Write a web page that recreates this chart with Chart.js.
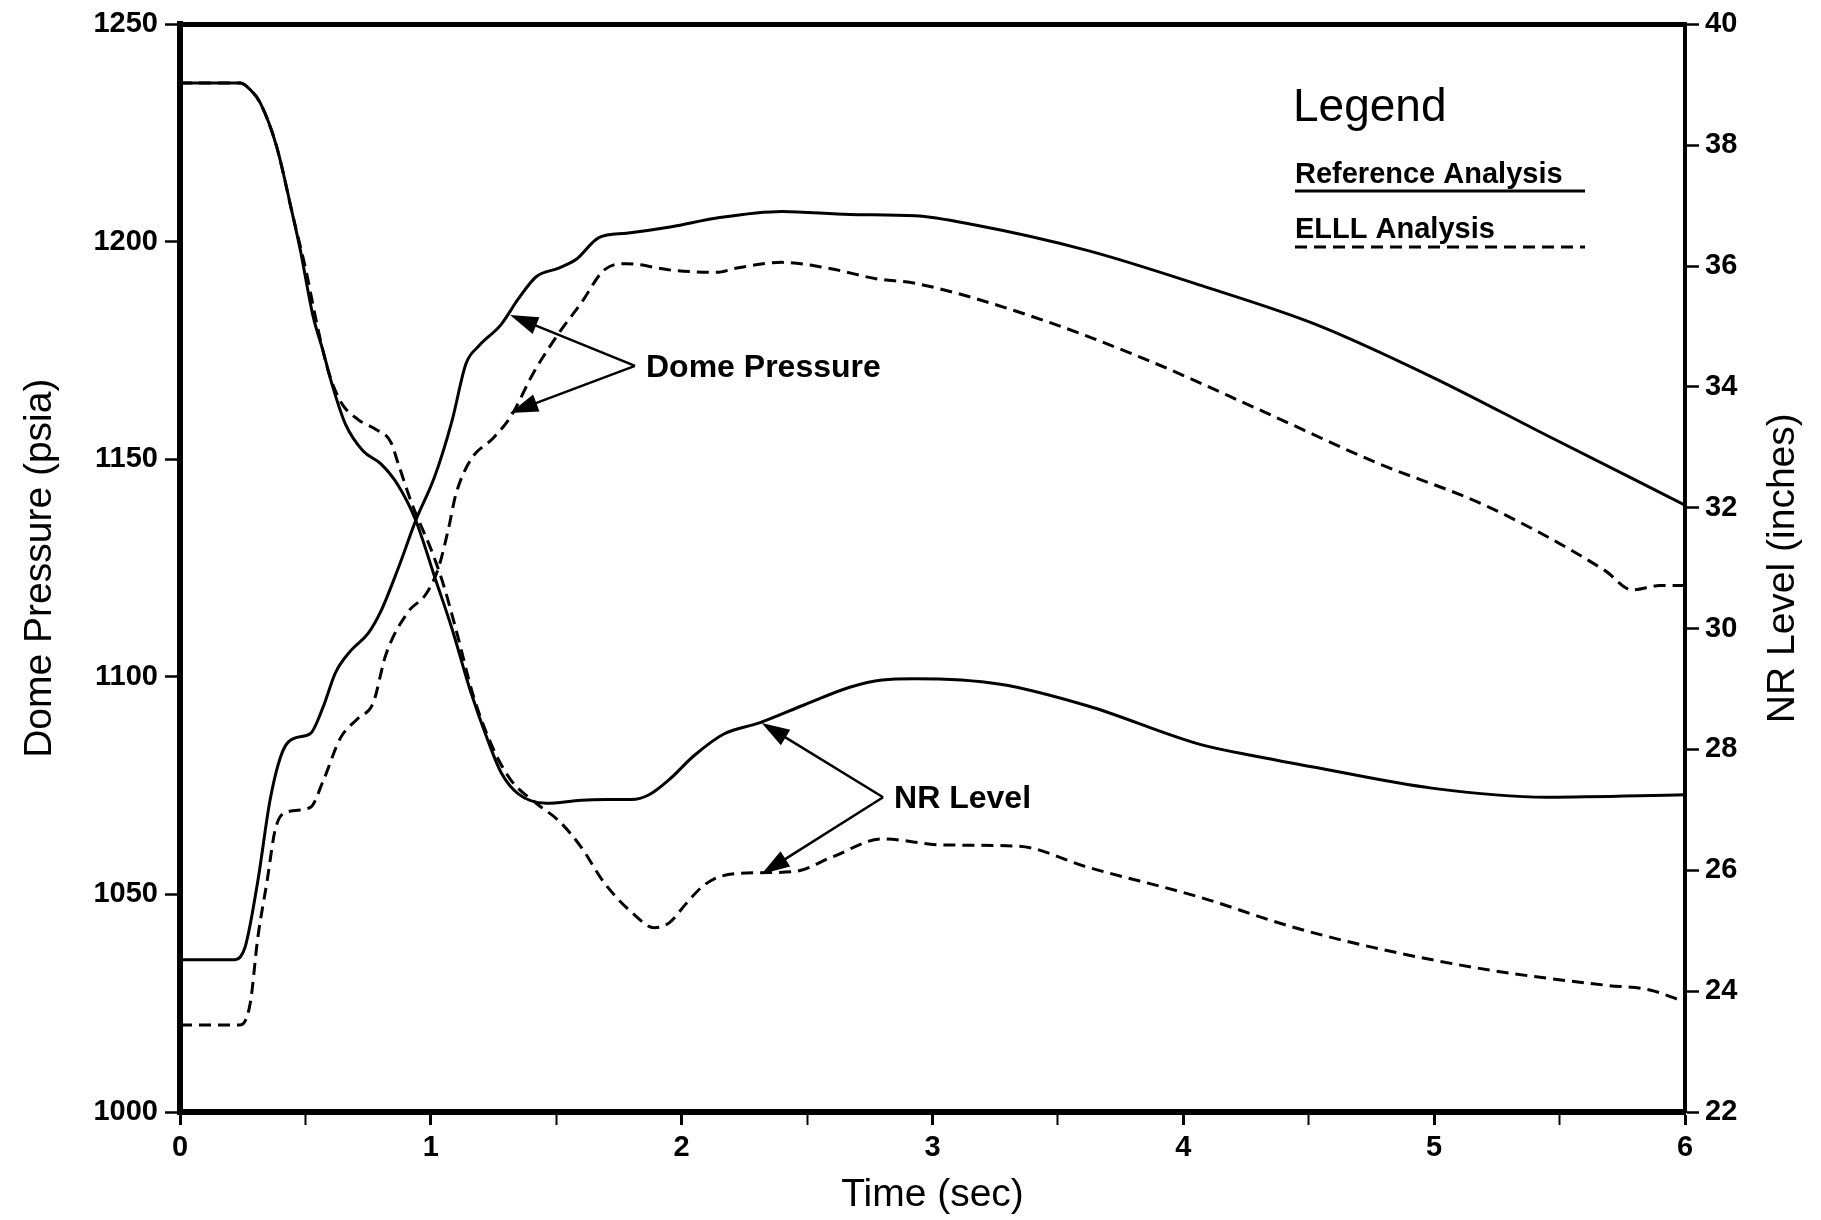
<!DOCTYPE html>
<html>
<head>
<meta charset="utf-8">
<title>Dome Pressure / NR Level</title>
<script src="https://cdn.jsdelivr.net/npm/chart.js@4.4.1/dist/chart.umd.min.js"></script>
<style>
    html, body { margin: 0; padding: 0; background: #fff; }
    #chart { display: block; }
</style>
</head>
<body>
<canvas id="chart" width="1821" height="1220"></canvas>
<script>
// 数据
// Dome Pressure, Reference Analysis (psia)
const domeRefTime = [0, 0.22, 0.26, 0.31, 0.36, 0.41, 0.46, 0.52, 0.57, 0.62, 0.68, 0.75, 0.80, 0.87, 0.94, 1.015, 1.085, 1.14, 1.19, 1.28, 1.35, 1.42, 1.51, 1.58, 1.67, 1.78, 1.96, 2.14, 2.40, 2.67, 2.93, 3.16, 3.62, 4.07, 4.53, 4.99, 5.45, 6.0];
const domeRefPsia = [1035, 1035, 1038, 1053, 1072, 1083, 1086, 1087, 1093, 1101, 1106, 1110, 1115, 1125, 1136, 1146, 1159, 1172, 1176, 1181, 1187, 1192, 1194, 1196, 1201, 1202, 1203.5, 1205.5, 1207, 1206.3, 1206, 1204, 1198, 1190, 1181, 1169, 1155.5, 1139.5];

// Dome Pressure, ELLL Analysis (psia)
const domeElllTime = [0, 0.24, 0.28, 0.31, 0.347, 0.38, 0.43, 0.52, 0.57, 0.64, 0.71, 0.77, 0.82, 0.91, 0.98, 1.03, 1.07, 1.10, 1.16, 1.25, 1.32, 1.41, 1.51, 1.60, 1.69, 1.78, 1.96, 2.14, 2.22, 2.40, 2.58, 2.78, 2.93, 3.39, 3.85, 4.30, 4.76, 5.22, 5.68, 5.79, 5.90, 6.0];
const domeElllPsia = [1020, 1020, 1025, 1040, 1053, 1065, 1069, 1070, 1076, 1086, 1090.5, 1094, 1105, 1115, 1119, 1125, 1134, 1142, 1150, 1155, 1160, 1170, 1179, 1186, 1193.5, 1195, 1193.5, 1193, 1194, 1195.3, 1194, 1191.5, 1190.5, 1183, 1173, 1161.5, 1149.5, 1139, 1124.5, 1120, 1121, 1121];

// NR Level, Reference Analysis (inches)
const nrRefTime = [0, 0.24, 0.28, 0.32, 0.385, 0.45, 0.48, 0.53, 0.57, 0.605, 0.66, 0.73, 0.80, 0.87, 0.94, 1.015, 1.085, 1.157, 1.23, 1.28, 1.35, 1.46, 1.60, 1.70, 1.80, 1.87, 1.95, 2.05, 2.17, 2.31, 2.49, 2.67, 2.80, 2.93, 3.27, 3.62, 4.07, 4.30, 4.53, 4.99, 5.45, 6.0];
const nrRefInches = [39.03, 39.03, 38.92, 38.70, 37.98, 36.83, 36.26, 35.18, 34.6, 34.06, 33.38, 32.94, 32.73, 32.37, 31.79, 30.86, 29.99, 28.98, 28.12, 27.62, 27.26, 27.11, 27.16, 27.17, 27.17, 27.25, 27.5, 27.9, 28.26, 28.44, 28.74, 29.03, 29.15, 29.17, 29.08, 28.72, 28.08, 27.88, 27.7, 27.36, 27.21, 27.25];

// NR Level, ELLL Analysis (inches)
const nrElllTime = [0, 0.24, 0.28, 0.32, 0.385, 0.45, 0.50, 0.55, 0.59, 0.64, 0.71, 0.78, 0.84, 0.87, 0.925, 1.0, 1.05, 1.10, 1.17, 1.25, 1.32, 1.42, 1.51, 1.60, 1.69, 1.81, 1.89, 1.95, 2.02, 2.085, 2.155, 2.31, 2.45, 2.60, 2.80, 3.04, 3.34, 3.62, 4.07, 4.42, 4.76, 5.22, 5.68, 5.86, 6.0];
const nrElllInches = [39.03, 39.03, 38.92, 38.70, 37.98, 36.83, 35.97, 34.96, 34.28, 33.76, 33.46, 33.30, 33.09, 32.73, 32.06, 31.32, 30.73, 29.99, 28.88, 28.0, 27.49, 27.11, 26.82, 26.38, 25.8, 25.27, 25.05, 25.13, 25.46, 25.74, 25.9, 25.96, 25.98, 26.22, 26.52, 26.42, 26.40, 26.05, 25.55, 25.08, 24.72, 24.35, 24.1, 24.02, 23.82];

// 注释箭头 (数据坐标)
const annotations = [
    { text: 'Dome Pressure', axis: 'y', vertex: [1.814, 1171.5], tips: [[1.316, 1183.2], [1.316, 1160.7]] },
    { text: 'NR Level', axis: 'y2', vertex: [2.803, 27.21], tips: [[2.319, 28.44], [2.319, 25.94]] }
];

const FONT = '"Liberation Sans", Arial, Helvetica, sans-serif';
const DASH = [12, 7];

function toPoints(xs, ys) {
    return xs.map((x, i) => ({ x: x, y: ys[i] }));
}

function drawArrow(ctx, x1, y1, x2, y2) {
    const ang = Math.atan2(y2 - y1, x2 - x1);
    const len = 28, half = 9;
    ctx.beginPath();
    ctx.moveTo(x1, y1);
    ctx.lineTo(x2 - Math.cos(ang) * (len - 4), y2 - Math.sin(ang) * (len - 4));
    ctx.stroke();
    ctx.beginPath();
    ctx.moveTo(x2, y2);
    ctx.lineTo(x2 - Math.cos(ang) * len - Math.sin(ang) * half, y2 - Math.sin(ang) * len + Math.cos(ang) * half);
    ctx.lineTo(x2 - Math.cos(ang) * len + Math.sin(ang) * half, y2 - Math.sin(ang) * len - Math.cos(ang) * half);
    ctx.closePath();
    ctx.fill();
}

// 叠加层: 顶边框, 右轴标题, 图例, 注释
const overlay = {
    id: 'overlay',
    afterDraw(chart) {
        const { ctx, chartArea: a, scales } = chart;
        ctx.save();
        ctx.strokeStyle = '#000';
        ctx.fillStyle = '#000';

        // 顶边框
        ctx.lineWidth = 5;
        ctx.beginPath();
        ctx.moveTo(a.left - 3, a.top);
        ctx.lineTo(a.right + 2, a.top);
        ctx.stroke();

        // 右轴标题
        ctx.save();
        ctx.font = `39px ${FONT}`;
        ctx.textAlign = 'center';
        ctx.textBaseline = 'middle';
        ctx.translate(1783, (a.top + a.bottom) / 2);
        ctx.rotate(-Math.PI / 2);
        ctx.fillText('NR Level (inches)', 0, 0);
        ctx.restore();

        // 图例
        const lx = a.right - 390;
        const lr = a.right - 100;
        ctx.textAlign = 'left';
        ctx.textBaseline = 'alphabetic';
        ctx.font = `46px ${FONT}`;
        ctx.fillText('Legend', lx - 2, 121);
        ctx.font = `bold 29px ${FONT}`;
        ctx.fillText('Reference Analysis', lx, 183);
        ctx.fillText('ELLL Analysis', lx, 238);
        ctx.lineWidth = 3;
        ctx.beginPath();
        ctx.moveTo(lx, 191);
        ctx.lineTo(lr, 191);
        ctx.stroke();
        ctx.setLineDash(DASH);
        ctx.beginPath();
        ctx.moveTo(lx, 247);
        ctx.lineTo(lr, 247);
        ctx.stroke();
        ctx.setLineDash([]);

        // 注释
        ctx.lineWidth = 2.5;
        ctx.font = `bold 32px ${FONT}`;
        ctx.textBaseline = 'middle';
        annotations.forEach(an => {
            const ys = scales[an.axis];
            const vx = scales.x.getPixelForValue(an.vertex[0]);
            const vy = ys.getPixelForValue(an.vertex[1]);
            an.tips.forEach(t => {
                drawArrow(ctx, vx, vy, scales.x.getPixelForValue(t[0]), ys.getPixelForValue(t[1]));
            });
            ctx.fillText(an.text, vx + 11, vy + 2);
        });

        ctx.restore();
    }
};

const tickFont = { family: FONT, size: 29, weight: 'bold' };
const titleFont = { family: FONT, size: 39 };

document.addEventListener('DOMContentLoaded', () => {
    const ctx = document.getElementById('chart').getContext('2d');
    new Chart(ctx, {
        type: 'line',
        data: {
            datasets: [{
                label: 'Dome Pressure - Reference Analysis',
                data: toPoints(domeRefTime, domeRefPsia),
                yAxisID: 'y'
            }, {
                label: 'Dome Pressure - ELLL Analysis',
                data: toPoints(domeElllTime, domeElllPsia),
                yAxisID: 'y',
                borderDash: DASH
            }, {
                label: 'NR Level - Reference Analysis',
                data: toPoints(nrRefTime, nrRefInches),
                yAxisID: 'y2'
            }, {
                label: 'NR Level - ELLL Analysis',
                data: toPoints(nrElllTime, nrElllInches),
                yAxisID: 'y2',
                borderDash: DASH
            }]
        },
        options: {
            responsive: false,
            animation: false,
            events: [],
            layout: { padding: { top: 21, left: 0, right: 0, bottom: 0 } },
            elements: {
                line: { borderColor: '#000', borderWidth: 3, cubicInterpolationMode: 'monotone', fill: false },
                point: { radius: 0 }
            },
            plugins: {
                legend: { display: false },
                tooltip: { enabled: false }
            },
            scales: {
                x: {
                    type: 'linear',
                    position: 'bottom',
                    min: 0,
                    max: 6,
                    afterFit: s => { s.height = 108; },
                    ticks: {
                        stepSize: 0.5,
                        color: '#000',
                        font: tickFont,
                        padding: 6,
                        maxRotation: 0,
                        callback: v => (Number.isInteger(v) ? String(v) : '')
                    },
                    grid: {
                        drawOnChartArea: false,
                        tickLength: 13,
                        tickColor: '#000',
                        tickWidth: c => (Number.isInteger(c.tick.value) ? 3 : 2)
                    },
                    border: { display: true, color: '#000', width: 6 },
                    title: { display: true, text: 'Time (sec)', color: '#000', font: titleFont, padding: { top: 0, bottom: 1 } }
                },
                y: {
                    type: 'linear',
                    position: 'left',
                    min: 1000,
                    max: 1250,
                    afterFit: s => { s.width = 180; },
                    ticks: { stepSize: 50, color: '#000', font: tickFont, padding: 7, callback: v => String(v) },
                    grid: { drawOnChartArea: false, tickLength: 15, tickColor: '#000', tickWidth: 2.5 },
                    border: { display: true, color: '#000', width: 6 },
                    title: { display: true, text: 'Dome Pressure (psia)', color: '#000', font: titleFont, padding: { top: 17, bottom: 0 } }
                },
                y2: {
                    type: 'linear',
                    position: 'right',
                    min: 22,
                    max: 40,
                    afterFit: s => { s.width = 136; },
                    ticks: { stepSize: 2, color: '#000', font: tickFont, padding: 6, callback: v => String(v) },
                    grid: { drawOnChartArea: false, tickLength: 14, tickColor: '#000', tickWidth: 2.5 },
                    border: { display: true, color: '#000', width: 4 }
                }
            }
        },
        plugins: [overlay]
    });
});
</script>
</body>
</html>
